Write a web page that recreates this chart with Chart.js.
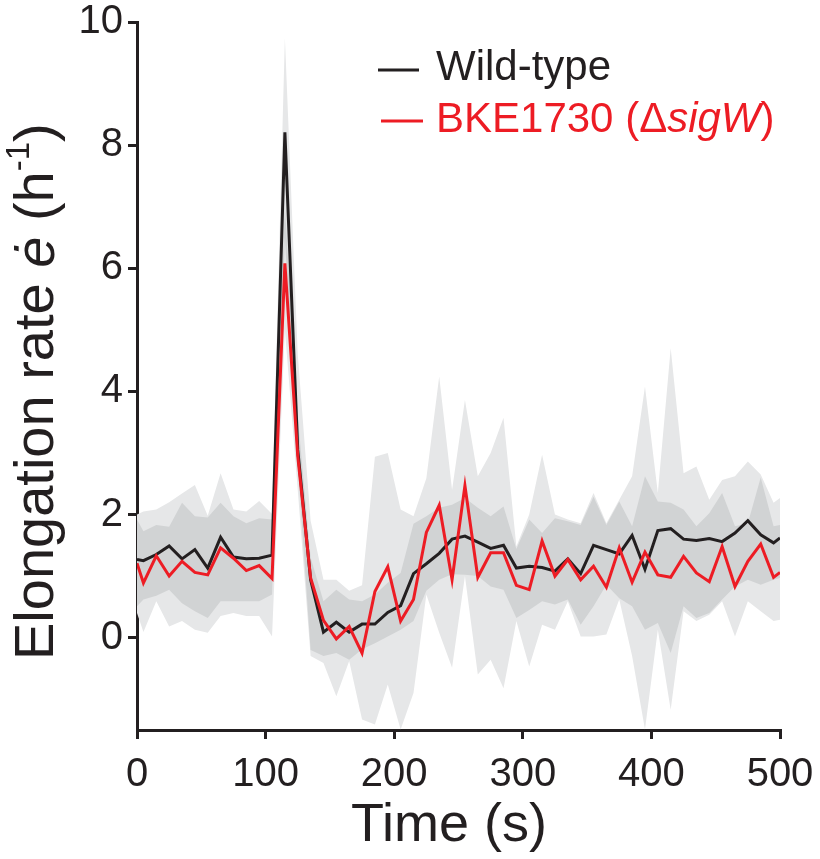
<!DOCTYPE html>
<html>
<head>
<meta charset="utf-8">
<script src="https://cdn.jsdelivr.net/npm/chart.js@4.4.1/dist/chart.umd.min.js"></script>
<style>
  html, body { margin: 0; padding: 0; background: #fff; }
  #wrap { width: 820px; height: 859px; }
</style>
</head>
<body>
<div id="wrap"><canvas id="RateChart"></canvas></div>
<script>
// time points (s)
var times = [0, 5, 15, 25, 35, 45, 55, 65, 75, 85, 95, 105, 115, 125, 135, 145, 155, 165, 175, 185,
    195, 205, 215, 225, 235, 245, 255, 265, 275, 285, 295, 305, 315, 325, 335, 345, 355, 365, 375, 385,
    395, 405, 415, 425, 435, 445, 455, 465, 475, 485, 495, 500];

// mean elongation rate (h^-1)
var wildType = [1.27, 1.25, 1.35, 1.49, 1.28, 1.43, 1.13, 1.63, 1.31, 1.28, 1.29, 1.34,
    8.21, 3.05, 0.94, 0.09, 0.25, 0.09, 0.22, 0.22, 0.41, 0.52,
    1.04, 1.20, 1.37, 1.60, 1.65, 1.55, 1.45, 1.50, 1.13, 1.16, 1.14, 1.08, 1.28, 1.04, 1.50, 1.43,
    1.36, 1.66, 1.11, 1.74, 1.77, 1.60, 1.58, 1.61, 1.56, 1.70, 1.90, 1.67, 1.54, 1.62];

var sigW = [1.21, 0.89, 1.33, 1.00, 1.24, 1.06, 1.02, 1.46, 1.29, 1.09, 1.17, 0.96,
    6.08, 2.95, 0.97, 0.28, -0.02, 0.18, -0.25, 0.75, 1.15, 0.27,
    0.62, 1.71, 2.15, 0.94, 2.47, 0.98, 1.38, 1.38, 0.85, 0.78, 1.57, 1.00, 1.27, 0.94, 1.16, 0.82,
    1.46, 0.90, 1.39, 1.02, 0.98, 1.32, 1.05, 0.91, 1.48, 0.83, 1.24, 1.52, 0.98, 1.06];

// shaded spread: outer = union of both bands, inner = where they overlap
var outerHi = [2.00, 2.05, 2.08, 2.20, 2.34, 2.48, 1.98, 2.67, 2.08, 2.05, 2.22, 2.01,
    9.74, 4.6, 1.9, 0.94, 0.94, 0.76, 0.85, 2.94, 3.00, 2.08,
    1.97, 2.59, 4.24, 2.40, 3.86, 2.62, 3.00, 3.57, 1.48, 2.00, 2.97, 2.00, 1.92, 1.86, 2.35, 1.86,
    2.24, 2.62, 4.08, 2.35, 4.70, 2.67, 2.78, 2.24, 2.56, 2.62, 2.86, 2.65, 2.19, 2.27];
var innerHi = [1.92, 1.73, 1.83, 1.80, 2.19, 1.97, 1.95, 2.19, 1.97, 1.86, 1.94, 1.92,
    7.0, 3.6, 1.3, 0.59, 0.78, 0.62, 0.59, 0.70, 0.89, 1.05,
    1.85, 1.97, 2.11, 2.16, 2.27, 2.11, 1.97, 2.13, 1.44, 1.92, 1.70, 1.94, 1.89, 1.83, 2.29, 1.83,
    2.21, 1.81, 2.62, 2.21, 2.19, 2.08, 1.81, 2.02, 2.35, 1.81, 1.86, 2.60, 1.81, 1.83];
var innerLo = [0.51, 0.62, 0.68, 0.78, 0.56, 0.43, 0.32, 0.59, 0.59, 0.59, 0.59, 0.70,
    6.5, 2.8, -0.2, -0.30, -0.25, -0.36, -0.19, -0.09, 0.02, 0.13,
    0.27, 0.76, 0.94, 1.03, 1.02, 1.00, 0.83, 0.78, 0.32, 0.45, 0.59, 0.54, 0.62, 0.21, 0.51, 0.86,
    0.64, 0.51, 0.13, 0.24, -0.25, 0.51, 0.32, 0.40, 0.62, 0.83, 0.94, 0.86, 0.94, 0.97];
var outerLo = [0.40, 0.09, 0.59, 0.18, 0.27, 0.13, 0.08, 0.35, 0.40, 0.35, 0.35, 0.02,
    5.0, 2.4, -0.3, -0.41, -0.95, -0.38, -1.33, -1.41, -0.76, -1.49,
    -0.90, 0.70, 0.08, -0.49, 1.00, -0.60, -0.36, -0.82, 0.27, -0.47, 0.21, 0.13, 0.59, 0.02, 0.02, 0.05,
    0.62, -0.30, -1.49, 0.13, -1.17, 0.43, 0.27, 0.37, 0.59, 0.02, 0.59, 0.43, 0.27, 0.29];

var xTicks = [0, 100, 200, 300, 400, 500];
var yTicks = [0, 2, 4, 6, 8, 10];

var ink = '#231f20';
var red = '#ed1c24';
var font = '"Liberation Sans", Arial, Helvetica, sans-serif';

function pts(values) {
    return times.map(function (t, i) { return { x: t, y: values[i] }; });
}

function bandEdge(values, fill, color, order) {
    return {
        data: pts(values),
        borderColor: 'rgba(0,0,0,0)',
        borderWidth: 0,
        pointRadius: 0,
        backgroundColor: color,
        fill: fill,
        order: order,
        tension: 0
    };
}

var labelsPlugin = {
    id: 'labels',
    afterDraw: function (chart) {
        var ctx = chart.ctx;
        ctx.save();
        ctx.textBaseline = 'middle';
        ctx.textAlign = 'left';

        // legend
        ctx.lineWidth = 3;
        ctx.strokeStyle = ink;
        ctx.beginPath(); ctx.moveTo(378, 70); ctx.lineTo(419, 70); ctx.stroke();
        ctx.strokeStyle = red;
        ctx.beginPath(); ctx.moveTo(381, 121); ctx.lineTo(423, 121); ctx.stroke();

        ctx.fillStyle = ink;
        ctx.font = '42px ' + font;
        ctx.fillText('Wild-type', 436, 68);

        var x = 436;
        var runs = [
            { t: 'BKE1730 (\u0394', f: '42px ' + font },
            { t: 'sigW', f: 'italic 42px ' + font },
            { t: ')', f: '42px ' + font }
        ];
        ctx.fillStyle = red;
        runs.forEach(function (r) {
            ctx.font = r.f;
            ctx.fillText(r.t, x, 120);
            x += ctx.measureText(r.t).width;
        });

        // x title
        ctx.fillStyle = ink;
        ctx.textAlign = 'center';
        ctx.font = '54px ' + font;
        ctx.fillText('Time (s)', 449, 826);

        // y title, rotated, starting near the bottom of the axis
        ctx.textAlign = 'left';
        var yRuns = [
            { t: 'Elongation rate ', f: '56px ' + font, dy: 0 },
            { t: '\u0117', f: 'italic 56px ' + font, dy: 0 },
            { t: ' (h', f: '56px ' + font, dy: 0 },
            { t: '-1', f: '33px ' + font, dy: -18 },
            { t: ')', f: '56px ' + font, dy: 0 }
        ];
        ctx.translate(38, 660);
        ctx.rotate(-Math.PI / 2);
        var pos = 0;
        yRuns.forEach(function (r) {
            ctx.font = r.f;
            ctx.fillText(r.t, pos, r.dy);
            pos += ctx.measureText(r.t).width;
        });
        ctx.restore();
    }
};

var config = {
    type: 'line',
    data: {
        datasets: [
            { label: 'BKE1730', data: pts(sigW), borderColor: red, borderWidth: 3, pointRadius: 0, fill: false, order: 0 },
            { label: 'Wild-type', data: pts(wildType), borderColor: ink, borderWidth: 3, pointRadius: 0, fill: false, order: 1 },
            bandEdge(innerHi, '+1', '#d1d3d4', 2),
            bandEdge(innerLo, false, '#d1d3d4', 2),
            bandEdge(outerHi, '+1', '#e6e7e8', 3),
            bandEdge(outerLo, false, '#e6e7e8', 3)
        ]
    },
    options: {
        responsive: true,
        maintainAspectRatio: false,
        animation: false,
        layout: { padding: { top: 22, right: 40, left: 0, bottom: 0 } },
        plugins: {
            legend: { display: false },
            tooltip: { enabled: false }
        },
        scales: {
            x: {
                type: 'linear',
                min: 0,
                max: 500,
                afterBuildTicks: function (scale) {
                    scale.ticks = xTicks.map(function (v) { return { value: v }; });
                },
                afterFit: function (scale) {
                    scale.height = 129;
                    scale.paddingLeft = 0;
                    scale.paddingRight = 0;
                },
                border: { display: true, color: ink, width: 3 },
                grid: { drawOnChartArea: false, drawTicks: true, tickLength: 9, color: ink, lineWidth: 3 },
                ticks: { color: ink, font: { family: font, size: 40 }, padding: 12, maxRotation: 0 }
            },
            y: {
                type: 'linear',
                min: -1.5,
                max: 10,
                afterBuildTicks: function (scale) {
                    scale.ticks = yTicks.map(function (v) { return { value: v }; });
                },
                afterFit: function (scale) {
                    scale.width = 137;
                    scale.paddingTop = 0;
                    scale.paddingBottom = 0;
                },
                border: { display: true, color: ink, width: 3 },
                grid: { drawOnChartArea: false, drawTicks: true, tickLength: 9, color: ink, lineWidth: 3 },
                ticks: { color: ink, font: { family: font, size: 40 }, padding: 5 }
            }
        }
    },
    plugins: [labelsPlugin]
};

var rateChart = new Chart(document.getElementById('RateChart'), config);
</script>
</body>
</html>
